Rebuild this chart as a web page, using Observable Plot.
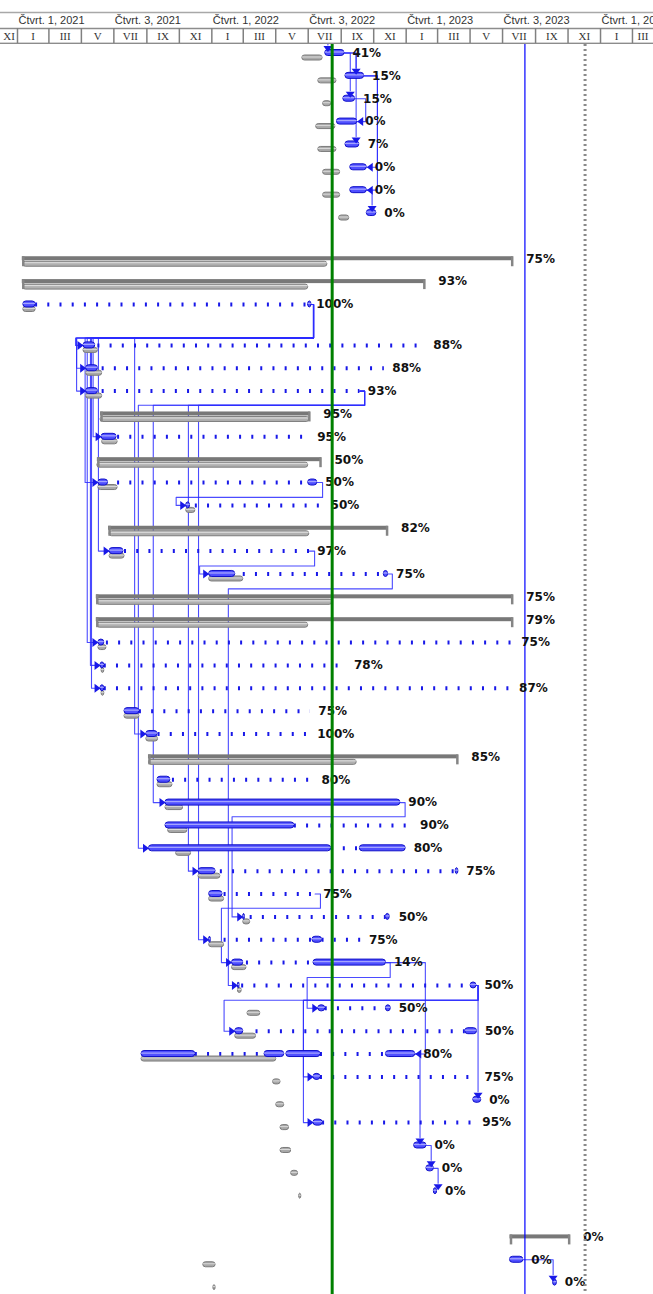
<!DOCTYPE html>
<html><head><meta charset="utf-8">
<script src="https://cdn.jsdelivr.net/npm/d3@7"></script>
<script src="https://cdn.jsdelivr.net/npm/@observablehq/plot@0.6"></script>
<style>
html,body{margin:0;padding:0;background:#fff;}
#chart svg{display:block;}
</style></head><body><div id="chart"></div>
<script>
// ---------- header (timescale) ----------
const cellStarts = ["2020-11-01","2021-01-01","2021-03-01","2021-05-01","2021-07-01","2021-09-01","2021-11-01","2022-01-01","2022-03-01","2022-05-01","2022-07-01","2022-09-01","2022-11-01","2023-01-01","2023-03-01","2023-05-01","2023-07-01","2023-09-01","2023-11-01","2024-01-01","2024-03-01"];
const cellLabels = ["XI","I","III","V","VII","IX","XI","I","III","V","VII","IX","XI","I","III","V","VII","IX","XI","I","III"];
const halfStarts = ["2021-01-01","2021-07-01","2022-01-01","2022-07-01","2023-01-01","2023-07-01","2024-01-01"];
const halfLabels = ["Čtvrt. 1, 2021","Čtvrt. 3, 2021","Čtvrt. 1, 2022","Čtvrt. 3, 2022","Čtvrt. 1, 2023","Čtvrt. 3, 2023","Čtvrt. 1, 2024"];

// ---------- markers ----------
const todayDate = "2022-08-15";     // green status line
const deadlineDate = "2023-08-12";  // blue line
const endDate = "2023-12-03";       // dashed gray line

// ---------- tasks: row, % complete, finish ----------
const labels = [
 {row:0,pct:"41%",finish:"2022-09-07"},{row:1,pct:"15%",finish:"2022-10-14"},{row:2,pct:"15%",finish:"2022-09-27"},
 {row:3,pct:"0%",finish:"2022-10-01"},{row:4,pct:"7%",finish:"2022-10-06"},{row:5,pct:"0%",finish:"2022-10-19"},
 {row:6,pct:"0%",finish:"2022-10-19"},{row:7,pct:"0%",finish:"2022-11-06"},{row:9,pct:"75%",finish:"2023-07-21"},
 {row:10,pct:"93%",finish:"2023-02-06"},{row:11,pct:"100%",finish:"2022-07-01"},{row:12,pct:"88%",finish:"2023-02-06"},
 {row:13,pct:"88%",finish:"2022-11-21"},{row:14,pct:"93%",finish:"2022-10-06"},{row:15,pct:"95%",finish:"2022-07-05"},
 {row:16,pct:"95%",finish:"2022-07-03"},{row:17,pct:"50%",finish:"2022-07-26"},{row:18,pct:"50%",finish:"2022-07-18"},
 {row:19,pct:"50%",finish:"2022-07-28"},{row:20,pct:"82%",finish:"2022-11-28"},{row:21,pct:"97%",finish:"2022-07-03"},
 {row:22,pct:"75%",finish:"2022-11-28"},{row:23,pct:"75%",finish:"2023-07-21"},{row:24,pct:"79%",finish:"2023-07-21"},
 {row:25,pct:"75%",finish:"2023-07-21"},{row:26,pct:"78%",finish:"2022-09-10"},{row:27,pct:"87%",finish:"2023-07-17"},
 {row:28,pct:"75%",finish:"2022-07-05"},{row:29,pct:"100%",finish:"2022-07-03"},{row:30,pct:"85%",finish:"2023-04-09"},
 {row:31,pct:"80%",finish:"2022-07-11"},{row:32,pct:"90%",finish:"2022-12-21"},{row:33,pct:"90%",finish:"2023-01-12"},
 {row:34,pct:"80%",finish:"2022-12-31"},{row:35,pct:"75%",finish:"2023-04-09"},{row:36,pct:"75%",finish:"2022-07-14"},
 {row:37,pct:"50%",finish:"2022-12-03"},{row:38,pct:"75%",finish:"2022-10-08"},{row:39,pct:"14%",finish:"2022-11-24"},
 {row:40,pct:"50%",finish:"2023-05-13"},{row:41,pct:"50%",finish:"2022-12-03"},{row:42,pct:"50%",finish:"2023-05-14"},
 {row:43,pct:"80%",finish:"2023-01-18"},{row:44,pct:"75%",finish:"2023-05-13"},{row:45,pct:"0%",finish:"2023-05-22"},
 {row:46,pct:"95%",finish:"2023-05-09"},{row:47,pct:"0%",finish:"2023-02-08"},{row:48,pct:"0%",finish:"2023-02-22"},
 {row:49,pct:"0%",finish:"2023-02-28"},{row:51,pct:"0%",finish:"2023-11-05"},{row:52,pct:"0%",finish:"2023-08-09"},
 {row:53,pct:"0%",finish:"2023-10-11"}
];

// ---------- current schedule segments (blue) ----------
const bars = [
 {row:0,start:"2022-08-02",end:"2022-09-07"},{row:1,start:"2022-09-09",end:"2022-10-14"},{row:2,start:"2022-09-05",end:"2022-09-27"},
 {row:3,start:"2022-08-24",end:"2022-10-01"},{row:4,start:"2022-09-09",end:"2022-10-05"},{row:5,start:"2022-09-18",end:"2022-10-19"},
 {row:6,start:"2022-09-18",end:"2022-10-19"},{row:7,start:"2022-10-19",end:"2022-11-06"},
 {row:11,start:"2021-01-12",end:"2021-02-04"},{row:11,start:"2022-07-01",end:"2022-07-07"},
 {row:12,start:"2021-05-05",end:"2021-05-27"},{row:13,start:"2021-05-10",end:"2021-06-01"},{row:14,start:"2021-05-10",end:"2021-06-01"},
 {row:16,start:"2021-06-08",end:"2021-07-06"},
 {row:18,start:"2021-06-02",end:"2021-06-20"},{row:18,start:"2022-07-01",end:"2022-07-18"},
 {row:19,start:"2021-11-14",end:"2021-11-21"},{row:21,start:"2021-06-23",end:"2021-07-19"},
 {row:22,start:"2021-12-27",end:"2022-02-14"},{row:22,start:"2022-11-20",end:"2022-11-28"},
 {row:25,start:"2021-06-02",end:"2021-06-13"},{row:26,start:"2021-06-06",end:"2021-06-13"},{row:27,start:"2021-06-06",end:"2021-06-13"},
 {row:28,start:"2021-07-21",end:"2021-08-18"},{row:29,start:"2021-08-31",end:"2021-09-21"},{row:31,start:"2021-09-21",end:"2021-10-15"},
 {row:32,start:"2021-10-06",end:"2022-12-21"},{row:33,start:"2021-10-06",end:"2022-06-05"},
 {row:34,start:"2021-09-05",end:"2022-08-13"},{row:34,start:"2022-10-06",end:"2022-12-31"},
 {row:35,start:"2021-12-07",end:"2022-01-08"},{row:35,start:"2023-04-04",end:"2023-04-09"},
 {row:36,start:"2021-12-27",end:"2022-01-21"},
 {row:37,start:"2022-03-01",end:"2022-03-04"},{row:37,start:"2022-11-24",end:"2022-12-01"},
 {row:38,start:"2021-12-27",end:"2021-12-30"},{row:38,start:"2022-07-09",end:"2022-07-27"},
 {row:39,start:"2022-02-08",end:"2022-03-01"},{row:39,start:"2022-07-11",end:"2022-11-24"},
 {row:40,start:"2022-02-19",end:"2022-02-22"},{row:40,start:"2023-05-02",end:"2023-05-13"},
 {row:41,start:"2022-07-20",end:"2022-08-02"},{row:41,start:"2022-11-24",end:"2022-12-03"},
 {row:42,start:"2022-02-14",end:"2022-03-01"},{row:42,start:"2023-04-22",end:"2023-05-14"},
 {row:43,start:"2021-08-22",end:"2021-12-01"},{row:43,start:"2022-04-10",end:"2022-05-17"},{row:43,start:"2022-05-21",end:"2022-07-24"},{row:43,start:"2022-11-24",end:"2023-01-18"},
 {row:44,start:"2022-07-11",end:"2022-07-24"},{row:45,start:"2023-05-07",end:"2023-05-22"},{row:46,start:"2022-07-11",end:"2022-07-28"},
 {row:47,start:"2023-01-16",end:"2023-02-08"},{row:48,start:"2023-02-08",end:"2023-02-22"},{row:49,start:"2023-02-22",end:"2023-02-28"},
 {row:52,start:"2023-07-15",end:"2023-08-09"},{row:53,start:"2023-10-04",end:"2023-10-11"}
];

// ---------- baseline (gray) ----------
const baselines = [
 {row:0,start:"2022-06-20",end:"2022-07-28"},{row:1,start:"2022-07-20",end:"2022-08-23"},{row:2,start:"2022-07-29",end:"2022-08-13"},
 {row:3,start:"2022-07-16",end:"2022-08-21"},{row:4,start:"2022-07-20",end:"2022-08-23"},{row:5,start:"2022-07-29",end:"2022-08-30"},
 {row:6,start:"2022-07-29",end:"2022-08-30"},{row:7,start:"2022-08-28",end:"2022-09-16"},
 {row:11,start:"2021-01-12",end:"2021-02-04"},{row:12,start:"2021-05-05",end:"2021-06-01"},{row:13,start:"2021-05-10",end:"2021-06-09"},
 {row:14,start:"2021-05-10",end:"2021-06-09"},{row:16,start:"2021-06-09",end:"2021-07-08"},{row:18,start:"2021-06-02",end:"2021-07-08"},
 {row:19,start:"2021-11-14",end:"2021-12-01"},{row:21,start:"2021-06-23",end:"2021-07-21"},{row:22,start:"2021-12-27",end:"2022-03-01"},
 {row:25,start:"2021-06-02",end:"2021-06-17"},{row:26,start:"2021-06-08",end:"2021-06-13"},{row:27,start:"2021-06-08",end:"2021-06-13"},
 {row:28,start:"2021-07-21",end:"2021-08-18"},{row:29,start:"2021-08-31",end:"2021-09-22"},{row:31,start:"2021-09-21",end:"2021-10-19"},
 {row:32,start:"2021-10-06",end:"2021-11-08"},{row:33,start:"2021-10-11",end:"2021-11-16"},{row:34,start:"2021-10-26",end:"2021-11-23"},
 {row:35,start:"2021-12-07",end:"2022-01-17"},{row:36,start:"2021-12-27",end:"2022-01-24"},{row:37,start:"2022-03-01",end:"2022-03-14"},
 {row:38,start:"2021-12-27",end:"2022-01-24"},{row:39,start:"2022-02-08",end:"2022-03-07"},{row:40,start:"2022-02-19",end:"2022-02-26"},
 {row:41,start:"2022-03-09",end:"2022-04-02"},{row:42,start:"2022-02-14",end:"2022-03-25"},{row:43,start:"2021-08-22",end:"2022-05-02"},
 {row:44,start:"2022-04-26",end:"2022-05-10"},{row:45,start:"2022-05-02",end:"2022-05-17"},{row:46,start:"2022-05-10",end:"2022-05-26"},
 {row:47,start:"2022-05-10",end:"2022-05-30"},{row:48,start:"2022-05-30",end:"2022-06-12"},{row:49,start:"2022-06-14",end:"2022-06-18"},
 {row:52,start:"2021-12-16",end:"2022-01-08"},{row:53,start:"2022-01-04",end:"2022-01-08"}
];

// ---------- summary tasks ----------
const summaries = [
 {row:9,start:"2021-01-10",end:"2023-07-21"},{row:10,start:"2021-01-10",end:"2023-02-06"},{row:15,start:"2021-06-06",end:"2022-07-05"},
 {row:17,start:"2021-05-31",end:"2022-07-26"},{row:20,start:"2021-06-21",end:"2022-11-28"},{row:23,start:"2021-05-29",end:"2023-07-21"},
 {row:24,start:"2021-05-29",end:"2023-07-21"},{row:30,start:"2021-09-04",end:"2023-04-09"},{row:51,start:"2023-07-15",end:"2023-11-05"}
];
const summaryBaselines = [
 {row:9,start:"2021-01-12",end:"2022-08-06"},{row:10,start:"2021-01-12",end:"2022-07-01"},{row:15,start:"2021-06-06",end:"2022-07-03"},
 {row:17,start:"2021-05-31",end:"2022-07-01"},{row:20,start:"2021-06-23",end:"2022-07-03"},{row:23,start:"2021-05-31",end:"2022-08-15"},
 {row:24,start:"2021-05-31",end:"2022-07-01"},{row:30,start:"2021-09-05",end:"2022-09-30"}
];

// ---------- splits (dotted) ----------
const splits = [
 {row:11,start:"2021-02-04",end:"2022-07-01"},{row:12,start:"2021-06-01",end:"2023-02-06"},{row:13,start:"2021-06-09",end:"2022-11-21"},
 {row:14,start:"2021-06-09",end:"2022-10-06"},{row:16,start:"2021-07-08",end:"2022-07-03"},{row:18,start:"2021-07-08",end:"2022-07-01"},
 {row:19,start:"2021-12-01",end:"2022-07-28"},{row:21,start:"2021-07-21",end:"2022-07-09"},{row:22,start:"2022-03-01",end:"2022-11-20"},
 {row:25,start:"2021-06-17",end:"2023-07-19"},{row:26,start:"2021-06-13",end:"2022-09-10"},{row:27,start:"2021-06-13",end:"2023-07-17"},
 {row:28,start:"2021-08-18",end:"2022-07-05"},{row:29,start:"2021-09-22",end:"2022-07-03"},{row:31,start:"2021-10-19",end:"2022-07-11"},
 {row:33,start:"2022-06-05",end:"2023-01-12"},{row:34,start:"2022-08-13",end:"2022-10-06"},{row:35,start:"2022-01-17",end:"2023-04-04"},
 {row:36,start:"2022-01-24",end:"2022-07-14"},{row:37,start:"2022-03-14",end:"2022-11-24"},{row:38,start:"2022-01-24",end:"2022-07-09"},
 {row:38,start:"2022-07-27",end:"2022-10-08"},{row:39,start:"2022-03-07",end:"2022-07-11"},{row:40,start:"2022-02-26",end:"2023-05-02"},
 {row:41,start:"2022-08-02",end:"2022-11-24"},{row:42,start:"2022-03-25",end:"2023-04-22"},{row:43,start:"2021-12-01",end:"2022-04-10"},
 {row:43,start:"2022-07-24",end:"2022-11-24"},{row:44,start:"2022-07-24",end:"2023-05-09"},{row:46,start:"2022-07-28",end:"2023-05-09"}
];

// ---------- dependency links ----------
const links = [
 {p:null,s:0,kind:"down",v:"2022-08-07"},
 {p:0,s:1,kind:"down",v:"2022-09-29"},{p:0,s:2,kind:"down",v:"2022-09-18"},{p:0,s:4,kind:"down",v:"2022-09-29"},
 {p:2,s:3,kind:"ff",v:"2022-10-17"},{p:1,s:5,kind:"ff",v:"2022-11-08"},{p:1,s:6,kind:"ff",v:"2022-11-08"},
 {p:6,s:7,kind:"down",v:"2022-10-29"},
 {p:11,s:12,kind:"back",out:"2022-07-11",lane:1.47,v:"2021-04-20"},
 {p:11,s:13,kind:"back",out:"2022-07-11",lane:1.47,v:"2021-04-22"},
 {p:11,s:14,kind:"back",out:"2022-07-11",lane:1.47,v:"2021-04-22"},
 {p:11,s:16,kind:"back",out:"2022-07-11",lane:1.47,v:"2021-05-23"},
 {p:11,s:18,kind:"back",out:"2022-07-11",lane:1.47,v:"2021-05-08"},
 {p:11,s:21,kind:"back",out:"2022-07-11",lane:1.47,v:"2021-06-02"},
 {p:11,s:25,kind:"back",out:"2022-07-11",lane:1.47,v:"2021-05-12"},
 {p:11,s:26,kind:"back",out:"2022-07-11",lane:1.47,v:"2021-05-18"},
 {p:11,s:27,kind:"back",out:"2022-07-11",lane:1.47,v:"2021-05-20"},
 {p:11,s:29,kind:"back",out:"2022-07-11",lane:1.47,v:"2021-08-09"},
 {p:14,s:34,kind:"back",out:"2022-10-15",lane:0.62,v:"2021-08-16"},
 {p:14,s:32,kind:"back",out:"2022-10-15",lane:0.62,v:"2021-09-13"},
 {p:14,s:35,kind:"back",out:"2022-10-15",lane:0.62,v:"2021-11-18"},
 {p:14,s:38,kind:"back",out:"2022-10-15",lane:0.62,v:"2021-12-07"},
 {p:18,s:19,kind:"back",out:"2022-07-28",lane:0.65,v:"2021-10-26"},
 {p:21,s:22,kind:"back",out:"2022-07-13",lane:0.65,v:"2021-12-09"},
 {p:22,s:40,kind:"back",out:"2022-12-06",lane:0.65,v:"2022-02-01"},
 {p:32,s:37,kind:"back",out:"2022-12-30",lane:0.62,v:"2022-02-08"},
 {p:36,s:39,kind:"back",out:"2022-07-24",lane:0.62,v:"2022-01-19"},
 {p:39,s:43,kind:"ff",v:"2023-02-06"},
 {p:39,s:41,kind:"back",out:"2022-12-02",lane:0.65,v:"2022-06-29"},
 {p:40,s:45,kind:"down",v:"2023-05-16"},
 {p:40,s:42,kind:"back",out:"2023-05-16",lane:0.65,v:"2022-01-24"},
 {p:40,s:44,kind:"back",out:"2023-05-16",lane:0.65,v:"2022-06-22"},
 {p:40,s:46,kind:"back",out:"2023-05-16",lane:0.65,v:"2022-06-22"},
 {p:43,s:47,kind:"down",v:"2023-01-27"},{p:47,s:48,kind:"down",v:"2023-02-17"},
 {p:48,s:49,kind:"down",v:"2023-03-02"},{p:52,s:53,kind:"down",v:"2023-10-04"}
];

// ================= layout =================
const W = 653, H = 1294, HEAD = 44, ROW = 22.86;
const D = s => new Date(s);
const xDomain = [D("2020-11-30T02:00Z"), D("2024-04-09T12:00Z")];
const yOf = r => (r <= 11 ? r : r + 0.79);      // taller gap after row 11
const PX = 1 / ROW;                                // one pixel in row units
const yScale = {type: "linear", domain: [0, 54], range: [52.5 - HEAD, 52.5 - HEAD + 54 * ROW]};
const xScale = {type: "utc", domain: xDomain, range: [0, W]};

const BLUE = "#1818e8", LINK = "#2b2bff";
const finishOf = new Map(labels.map(d => [d.row, D(d.finish)]));
const startOf = r => d3.min(bars.filter(b => b.row === r), b => D(b.start));
const summaryRows = new Set(summaries.map(d => d.row));

// link geometry
const linkPts = [], arrows = [];
links.forEach((L, i) => {
  const ys = yOf(L.s);
  if (L.kind === "down") {
    const yp = L.p == null ? -0.45 : yOf(L.p);
    if (L.p != null) linkPts.push({id: i, x: finishOf.get(L.p), y: yp});
    linkPts.push({id: i, x: D(L.v), y: yp}, {id: i, x: D(L.v), y: ys - 8 * PX});
    arrows.push({x: D(L.v), y: ys, dir: "down"});
  } else if (L.kind === "ff") {
    const yp = yOf(L.p);
    linkPts.push({id: i, x: finishOf.get(L.p), y: yp}, {id: i, x: D(L.v), y: yp}, {id: i, x: D(L.v), y: ys}, {id: i, x: finishOf.get(L.s), y: ys});
    arrows.push({x: finishOf.get(L.s), y: ys, dir: "left"});
  } else {
    const yp = yOf(L.p), yl = yp + L.lane;
    linkPts.push({id: i, x: finishOf.get(L.p), y: yp}, {id: i, x: D(L.out), y: yp}, {id: i, x: D(L.out), y: yl},
                 {id: i, x: D(L.v), y: yl}, {id: i, x: D(L.v), y: ys}, {id: i, x: startOf(L.s), y: ys});
    arrows.push({x: startOf(L.s), y: ys, dir: "right"});
  }
});

const triRight = {draw(c) { c.moveTo(0, 0); c.lineTo(-6, -4.5); c.lineTo(-6, 4.5); c.closePath(); }};
const triLeft  = {draw(c) { c.moveTo(0, 0); c.lineTo(6, -4.5); c.lineTo(6, 4.5); c.closePath(); }};
const triDown  = {draw(c) { c.moveTo(0, 0); c.lineTo(-4.5, -6); c.lineTo(4.5, -6); c.closePath(); }};

// ================= header =================
const cells = cellStarts.map((s, i) => {
  const a = D(s), b = d3.utcMonth.offset(a, 2);
  const lo = a < xDomain[0] ? xDomain[0] : a, hi = b > xDomain[1] ? xDomain[1] : b;
  return {start: a, mid: new Date((+lo + +hi) / 2), label: cellLabels[i]};
});
const halves = halfStarts.map((s, i) => ({start: D(s), label: halfLabels[i]}));

const header = Plot.plot({
  width: W, height: HEAD, marginTop: 12, marginBottom: 1, marginLeft: 0, marginRight: 0,
  x: {...xScale, axis: null},
  style: {background: "#fff"},
  marks: [
    Plot.frame({stroke: "#a8a8a8", strokeWidth: 1.5, insetLeft: -3, insetRight: -3}),
    Plot.frame({stroke: "#8c8c8c", strokeWidth: 1.5, insetTop: 16, insetLeft: -3, insetRight: -3}),
    Plot.ruleX(cells.filter(d => d.start > xDomain[0]), {x: "start", insetTop: 16, stroke: "#808080", strokeWidth: 1.5}),
    Plot.text(halves, {x: "start", text: "label", frameAnchor: "top", lineAnchor: "middle", dy: 8, dx: 1, textAnchor: "start",
      fontFamily: "Liberation Sans, Arial, sans-serif", fontSize: 11, fill: "#333"}),
    Plot.text(cells, {x: "mid", text: "label", frameAnchor: "bottom", lineAnchor: "middle", dy: -7, textAnchor: "middle",
      fontFamily: "Liberation Serif, serif", fontSize: 11, fill: "#333"})
  ]
});

// ================= body =================
const Y = d => yOf(d.row);
const body = Plot.plot({
  width: W, height: H - HEAD, margin: 0,
  x: {...xScale, axis: null},
  y: {...yScale, axis: null},
  style: {background: "#fff", overflow: "hidden"},
  marks: [
    // dependency links
    Plot.line(linkPts, {x: "x", y: "y", z: "id", stroke: LINK, strokeWidth: 1.1, strokeOpacity: 0.85}),
    // splits
    Plot.ruleY(splits, {y: Y, x1: d => D(d.start), x2: d => D(d.end), stroke: BLUE, strokeWidth: 4, strokeDasharray: "2,10.2"}),
    // summary baseline + strip + brackets
    Plot.rect(summaryBaselines, {y1: Y, y2: Y, x1: d => D(d.start), x2: d => D(d.end), insetTop: -2, insetBottom: -3, dy: 5,
      fill: "#b0b0b0", stroke: "#7d7d7d", strokeWidth: 1, rx: 2.5}),
    Plot.ruleY(summaryBaselines, {y: Y, x1: d => D(d.start), x2: d => D(d.end), dy: 4, stroke: "#e2e2e2", strokeWidth: 1}),
    Plot.rect(summaries, {y1: Y, y2: Y, x1: d => D(d.start), x2: d => D(d.end), insetTop: -2, insetBottom: -2, fill: "#787878"}),
    Plot.ruleX(summaries, {x: d => D(d.start), y1: Y, y2: Y, insetTop: -2, insetBottom: -8, dx: 1, stroke: "#858585", strokeWidth: 2.5}),
    Plot.ruleX(summaries, {x: d => D(d.end), y1: Y, y2: Y, insetTop: -2, insetBottom: -8, dx: -1, stroke: "#858585", strokeWidth: 2.5}),
    // baselines
    Plot.rect(baselines, {y1: Y, y2: Y, x1: d => D(d.start), x2: d => D(d.end), insetTop: -2.5, insetBottom: -2.5, dy: 5,
      fill: "#a9a9a9", stroke: "#7b7b7b", strokeWidth: 1, rx: 2.5}),
    Plot.ruleY(baselines, {y: Y, x1: d => D(d.start), x2: d => D(d.end), dy: 4, stroke: "#dadada", strokeWidth: 1}),
    // current bars
    Plot.rect(bars, {y1: Y, y2: Y, x1: d => D(d.start), x2: d => D(d.end), insetTop: -3, insetBottom: -3,
      fill: "#5050ff", stroke: "#1010c8", strokeWidth: 1, rx: 3}),
    Plot.ruleY(bars, {y: Y, x1: d => D(d.start), x2: d => D(d.end), dy: -1, stroke: "#a4a4ff", strokeWidth: 1.3}),
    // arrow heads
    Plot.dot(arrows.filter(d => d.dir === "right"), {x: "x", y: "y", symbol: triRight, fill: BLUE, stroke: "none"}),
    Plot.dot(arrows.filter(d => d.dir === "left"), {x: "x", y: "y", symbol: triLeft, fill: BLUE, stroke: "none"}),
    Plot.dot(arrows.filter(d => d.dir === "down"), {x: "x", y: "y", dy: -1, symbol: triDown, fill: BLUE, stroke: "none"}),
    // deadline line
    Plot.ruleX([D(deadlineDate)], {stroke: "#0000ff", strokeWidth: 1.2}),
    // % labels
    Plot.text(labels.filter(d => !summaryRows.has(d.row)), {x: d => D(d.finish), y: Y, text: "pct", dx: 8, textAnchor: "start",
      fontFamily: "DejaVu Sans, sans-serif", fontWeight: "bold", fontSize: 12, fill: "#111"}),
    Plot.text(labels.filter(d => summaryRows.has(d.row)), {x: d => D(d.finish), y: Y, text: "pct", dx: 13, textAnchor: "start",
      fontFamily: "DejaVu Sans, sans-serif", fontWeight: "bold", fontSize: 12, fill: "#111"}),
    // end marker (dashed) and status date (green)
    Plot.ruleX([D(endDate)], {stroke: "#8a8a8a", strokeWidth: 3, strokeDasharray: "2,3"}),
    Plot.ruleX([D(todayDate)], {stroke: "#008000", strokeWidth: 3})
  ]
});

const root = document.getElementById("chart");
root.appendChild(header);
root.appendChild(body);
</script>
</body></html>
